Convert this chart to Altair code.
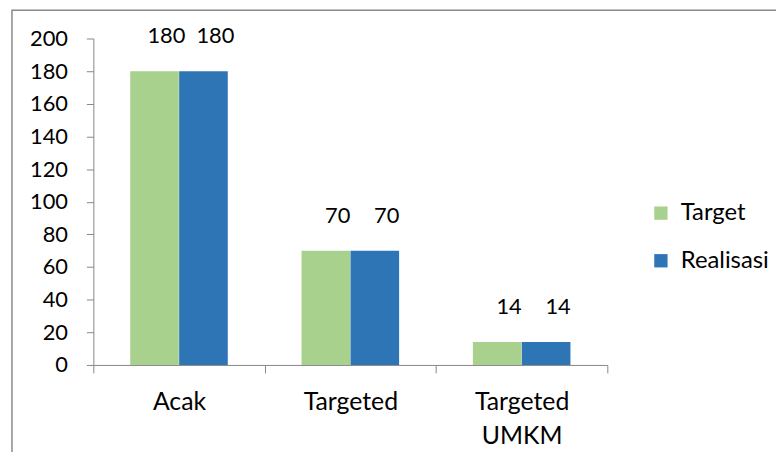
import altair as alt
import pandas as pd

categories = ["Acak", "Targeted", "Targeted UMKM"]
series = ["Target", "Realisasi"]
target_values = [180, 70, 14]
realisasi_values = [180, 70, 14]
colors = ["#A9D18E", "#2E75B6"]
y_ticks = list(range(0, 201, 20))

rows = []
for c, t, r in zip(categories, target_values, realisasi_values):
    rows.append({"Kategori": c, "Seri": "Target", "Nilai": t})
    rows.append({"Kategori": c, "Seri": "Realisasi", "Nilai": r})
df = pd.DataFrame(rows)

FONT = "Lato"
AXIS_COLOR = "#868686"

x_enc = alt.X(
    "Kategori:N",
    sort=categories,
    scale=alt.Scale(paddingInner=0, paddingOuter=0),
    axis=alt.Axis(
        title=None,
        labelAngle=0,
        labelExpr="split(datum.label, ' ')",
        tickBand="extent",
        tickSize=8,
        labelPadding=17,
        labelFontSize=25,
        labelLineHeight=34,
        labelBaseline="top",
        labelColor="#000000",
        domainColor=AXIS_COLOR,
        tickColor=AXIS_COLOR,
    ),
)
xoff = alt.XOffset("Seri:N", sort=series, scale=alt.Scale(paddingOuter=0.75, paddingInner=0))
y_enc = alt.Y(
    "Nilai:Q",
    scale=alt.Scale(domain=[0, 200], nice=False),
    axis=alt.Axis(
        title=None,
        values=y_ticks,
        grid=False,
        tickSize=7,
        labelPadding=19,
        labelFontSize=22,
        labelOverlap=False,
        labelColor="#000000",
        domainColor=AXIS_COLOR,
        tickColor=AXIS_COLOR,
    ),
)
color_enc = alt.Color(
    "Seri:N",
    sort=series,
    scale=alt.Scale(domain=series, range=colors),
    legend=alt.Legend(
        orient="none",
        legendX=560,
        legendY=164,
        title=None,
        symbolType="square",
        symbolSize=180,
        symbolStrokeWidth=0,
        labelFontSize=24,
        labelColor="#000000",
        rowPadding=24,
        labelOffset=8,
        padding=0,
    ),
)

border = alt.Chart(pd.DataFrame({"b": [0]})).mark_rect(
    fill="#ffffff", fillOpacity=0, stroke="#8a8a8a", strokeWidth=1.5
).encode(
    x=alt.value(-82), x2=alt.value(720), y=alt.value(-28.5), y2=alt.value(470)
)

bars = alt.Chart(df).mark_bar(size=49).encode(
    x=x_enc, xOffset=xoff, y=y_enc, color=color_enc
)

labels = alt.Chart(df).mark_text(
    font=FONT, fontSize=22, dx=12, dy=-35, baseline="middle", align="center", color="#000000"
).encode(
    x=x_enc, xOffset=xoff, y=y_enc, text="Nilai:Q"
)

chart = alt.layer(border, bars, labels).properties(
    width=518,
    height=329,
    autosize=alt.AutoSizeParams(type="none"),
    padding={"left": 86, "top": 29, "right": 170, "bottom": 86},
).configure(
    font=FONT
).configure_view(strokeWidth=0, stroke="transparent").configure_axis(labelFont=FONT).configure_legend(labelFont=FONT)

chart.save("out.html", embed_options={"renderer": "svg", "actions": False})
